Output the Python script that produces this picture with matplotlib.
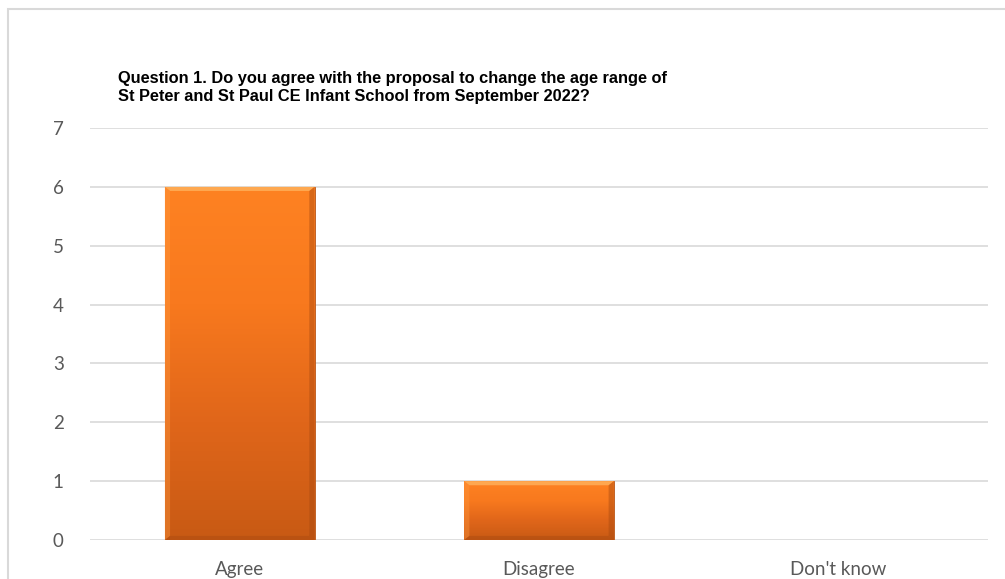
import numpy as np
import matplotlib
matplotlib.use("Agg")
import matplotlib.pyplot as plt
from matplotlib.patches import Rectangle, Polygon
from matplotlib.colors import LinearSegmentedColormap

# --- data ---
categories = ["Agree", "Disagree", "Don't know"]
counts = [6, 1, 0]
y_ticks = [0, 1, 2, 3, 4, 5, 6, 7]
title = ("Question 1. Do you agree with the proposal to change the age range of\n"
         "St Peter and St Paul CE Infant School from September 2022?")

W, H = 1005, 579
fig = plt.figure(figsize=(W / 100, H / 100), dpi=100)
fig.patch.set_facecolor("white")

# chart frame (cropped on right and bottom)
fig.add_artist(Rectangle((8 / W, -0.1), 1.2, 1 - 9 / H + 0.1, transform=fig.transFigure,
                         fill=False, edgecolor="#d9d9d9", linewidth=1.5))

ax = fig.add_axes([90 / W, 1 - 540 / H, (988 - 90) / W, (540 - 128) / H])
x = np.arange(len(categories))
bars = ax.bar(x, counts, width=0.5, color="#f97a1c", zorder=3, linewidth=0)

ax.set_xlim(-0.5, len(categories) - 0.5)
ax.set_ylim(0, 7)
ax.set_yticks(y_ticks)
ax.set_xticks(x)
ax.set_xticklabels(categories)
ax.grid(axis="y", color="#d9d9d9", linewidth=1.2, zorder=0)
ax.set_axisbelow(True)
for s in ax.spines.values():
    s.set_visible(False)
ax.tick_params(length=0, labelsize=13.5, labelcolor="#595959")
ax.tick_params(axis="x", pad=15)
ax.tick_params(axis="y", pad=19)
for lbl in ax.get_xticklabels() + ax.get_yticklabels():
    lbl.set_fontfamily(["Lato", "DejaVu Sans"])

# gradient + bevel on each bar
cmap = LinearSegmentedColormap.from_list("og", ["#c85a14", "#e0661a", "#f8791e", "#fe8222"])
grad = np.linspace(0, 1, 256).reshape(-1, 1)
for b in bars:
    h = b.get_height()
    if h <= 0:
        continue
    x0, w = b.get_x(), b.get_width()
    im = ax.imshow(grad, extent=[x0, x0 + w, 0, h], origin="lower", cmap=cmap,
                   aspect="auto", zorder=3.1)
    im.set_clip_path(b)
    bx = w * 0.035
    by = 0.07
    # top bevel
    ax.add_patch(Polygon([[x0, h], [x0 + w, h], [x0 + w - bx, h - by], [x0 + bx, h - by]],
                         closed=True, facecolor="#ffb25c", edgecolor="none", alpha=0.8, zorder=3.2))
    # left bevel
    ax.add_patch(Polygon([[x0, 0], [x0, h], [x0 + bx, h - by], [x0 + bx, by]],
                         closed=True, facecolor="#ff9a40", edgecolor="none", alpha=0.4, zorder=3.2))
    # right bevel
    ax.add_patch(Polygon([[x0 + w, 0], [x0 + w, h], [x0 + w - bx, h - by], [x0 + w - bx, by]],
                         closed=True, facecolor="#a94a10", edgecolor="none", alpha=0.45, zorder=3.2))
    # bottom bevel
    ax.add_patch(Polygon([[x0, 0], [x0 + w, 0], [x0 + w - bx, by], [x0 + bx, by]],
                         closed=True, facecolor="#a94a10", edgecolor="none", alpha=0.45, zorder=3.2))
    b.set_edgecolor("#b8561a")
    b.set_linewidth(0.6)

fig.text(118 / W, 1 - 71 / H, title, ha="left", va="top", fontsize=11.8, fontweight="bold",
         family=["Liberation Sans", "DejaVu Sans"], color="black", linespacing=1.28)

fig.savefig("out.png", dpi=100, facecolor="white")
